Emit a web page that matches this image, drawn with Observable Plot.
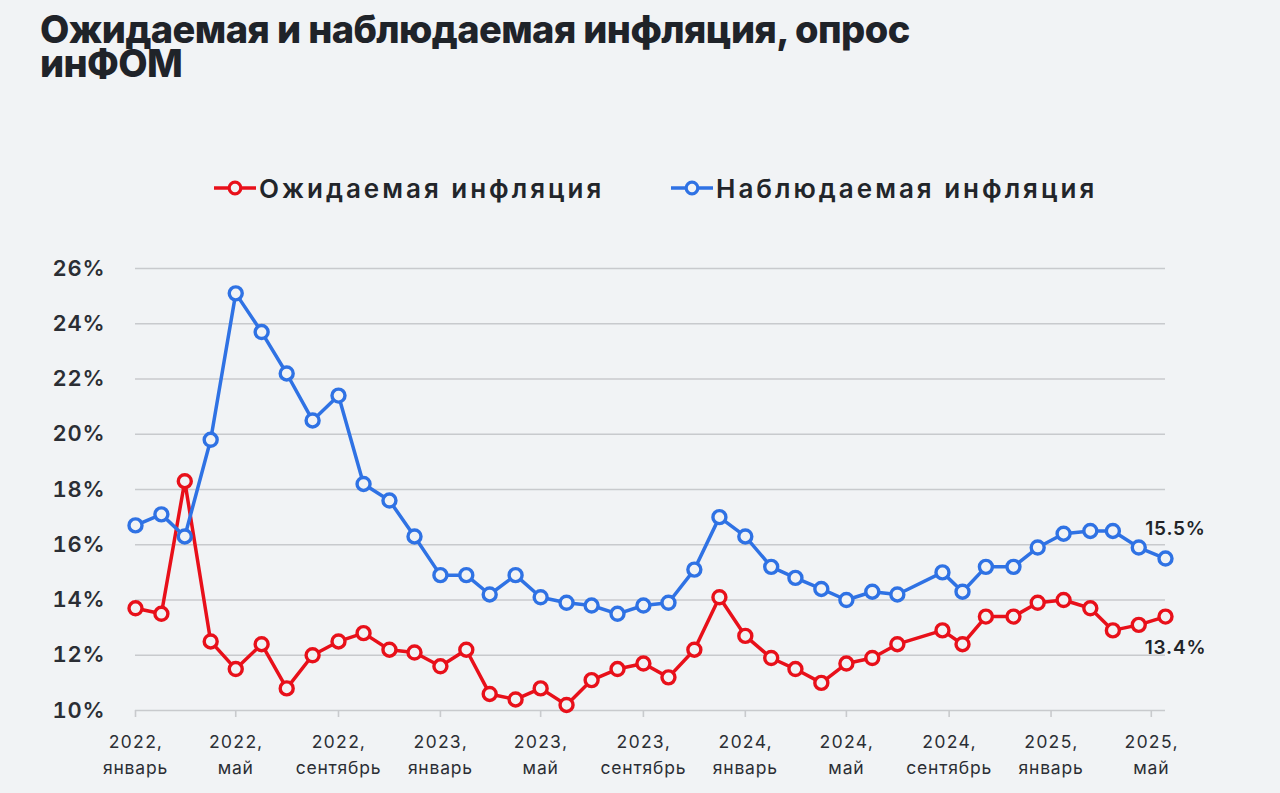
<!DOCTYPE html>
<html><head><meta charset="utf-8">
<script src="https://cdn.jsdelivr.net/npm/d3@7"></script>
<script src="https://cdn.jsdelivr.net/npm/@observablehq/plot@0.6"></script>
<style>
html,body{margin:0;padding:0;background:#f1f3f5;}
body{width:1280px;height:793px;position:relative;overflow:hidden;font-family:Inter,"Noto Sans",sans-serif;}
#title{position:absolute;left:40px;top:12px;font-size:38px;font-weight:800;line-height:34px;letter-spacing:-0.6px;color:#1f2329;margin:0;white-space:nowrap;}
.leg{position:absolute;top:173px;height:30px;display:flex;align-items:center;font-size:26px;font-weight:600;letter-spacing:3px;color:#22252a;white-space:nowrap;}
.leg svg{margin-right:3px;}
#chart{position:absolute;left:0;top:240px;}
#chart svg text{letter-spacing:0.8px;}
</style></head>
<body>
<div id="title">Ожидаемая и наблюдаемая инфляция, опрос<br>инФОМ</div>
<div id="legend"></div>
<div id="chart"></div>
<script>
// ---- data ----
const dates = [
  "2022-01-01","2022-02-01","2022-03-01","2022-04-01","2022-05-01","2022-06-01",
  "2022-07-01","2022-08-01","2022-09-01","2022-10-01","2022-11-01","2022-12-01",
  "2023-01-01","2023-02-01","2023-03-01","2023-04-01","2023-05-01","2023-06-01",
  "2023-07-01","2023-08-01","2023-09-01","2023-10-01","2023-11-01","2023-12-01",
  "2024-01-01","2024-02-01","2024-03-01","2024-04-01","2024-05-01","2024-06-01",
  "2024-07-01","2024-08-24","2024-09-17","2024-10-15","2024-11-17","2024-12-16",
  "2025-01-16","2025-02-17","2025-03-16","2025-04-16","2025-05-18"
];
const expected = [
  13.7,13.5,18.3,12.5,11.5,12.4,10.8,12.0,12.5,12.8,12.2,12.1,
  11.6,12.2,10.6,10.4,10.8,10.2,11.1,11.5,11.7,11.2,12.2,14.1,
  12.7,11.9,11.5,11.0,11.7,11.9,12.4,12.9,12.4,13.4,13.4,13.9,
  14.0,13.7,12.9,13.1,13.4
];
const observed = [
  16.7,17.1,16.3,19.8,25.1,23.7,22.2,20.5,21.4,18.2,17.6,16.3,
  14.9,14.9,14.2,14.9,14.1,13.9,13.8,13.5,13.8,13.9,15.1,17.0,
  16.3,15.2,14.8,14.4,14.0,14.3,14.2,15.0,14.3,15.2,15.2,15.9,
  16.4,16.5,16.5,15.9,15.5
];
const seriesNames = ["Ожидаемая инфляция","Наблюдаемая инфляция"];
const seriesColors = ["#e8101a","#2f72e4"];
const tickDates = ["2022-01-01","2022-05-01","2022-09-01","2023-01-01","2023-05-01","2023-09-01",
  "2024-01-01","2024-05-01","2024-09-01","2025-01-01","2025-05-01"];
const tickYears = ["2022","2022","2022","2023","2023","2023","2024","2024","2024","2025","2025"];
const tickMonths = ["январь","май","сентябрь","январь","май","сентябрь","январь","май","сентябрь","январь","май"];
const yTicks = [10,12,14,16,18,20,22,24,26];

// ---- build ----
const bg = "#f1f3f5";
const rows = (vals, s) => vals.map((v, i) => ({date: new Date(dates[i]), value: v, series: s}));
const red = rows(expected, seriesNames[0]);
const blue = rows(observed, seriesNames[1]);
const labelMap = new Map(tickDates.map((d, i) => [new Date(d).getTime(), tickYears[i] + ",\n" + tickMonths[i]]));

// legend
const legend = document.getElementById("legend");
const legLeft = [214, 671];
seriesNames.forEach((name, i) => {
  const div = document.createElement("div");
  div.className = "leg";
  div.style.left = legLeft[i] + "px";
  div.innerHTML = `<svg width="42" height="20"><line x1="0" x2="42" y1="10" y2="10" stroke="${seriesColors[i]}" stroke-width="3.5"/><circle cx="21" cy="10" r="5.8" fill="${bg}" stroke="${seriesColors[i]}" stroke-width="3.2"/></svg><span>${name}</span>`;
  legend.appendChild(div);
});

const chart = Plot.plot({
  width: 1280,
  height: 553,
  marginLeft: 135,
  marginRight: 115,
  marginTop: 28,
  marginBottom: 83,
  style: {background: "transparent", fontFamily: "Inter, 'Noto Sans', sans-serif", color: "#2b2e34"},
  x: {type: "utc", domain: [new Date(dates[0]), new Date(dates[dates.length - 1])]},
  y: {domain: [10, 26]},
  marks: [
    Plot.gridY(yTicks, {stroke: "#c8cacd", strokeOpacity: 1, strokeWidth: 1.6}),
    Plot.axisY({ticks: yTicks, tickFormat: d => d + "%", tickSize: 0, tickPadding: 30, fontSize: 22, fontWeight: 600, fill: "#2b2e34", label: null}),
    Plot.axisX({ticks: tickDates.map(d => new Date(d)), tickFormat: d => labelMap.get(d.getTime()), tickSize: 7, tickPadding: 12, fontSize: 17.5, lineHeight: 1.5, stroke: "#c8cacd", strokeWidth: 1.6, strokeOpacity: 1, fill: "#2b2e34", label: null}),
    Plot.line(red, {x: "date", y: "value", stroke: seriesColors[0], strokeWidth: 3.5}),
    Plot.dot(red, {x: "date", y: "value", r: 6.5, stroke: seriesColors[0], strokeWidth: 3.4, fill: bg}),
    Plot.line(blue, {x: "date", y: "value", stroke: seriesColors[1], strokeWidth: 3.5}),
    Plot.dot(blue, {x: "date", y: "value", r: 6.5, stroke: seriesColors[1], strokeWidth: 3.4, fill: bg}),
    Plot.text(blue.slice(-1), {x: "date", y: "value", text: d => d.value.toFixed(1) + "%", dx: 10, dy: -30, fontSize: 19, fontWeight: 600, fill: "#222428"}),
    Plot.text(red.slice(-1), {x: "date", y: "value", text: d => d.value.toFixed(1) + "%", dx: 10, dy: 31, fontSize: 19, fontWeight: 600, fill: "#222428"})
  ]
});
document.getElementById("chart").appendChild(chart);
</script>
</body></html>
